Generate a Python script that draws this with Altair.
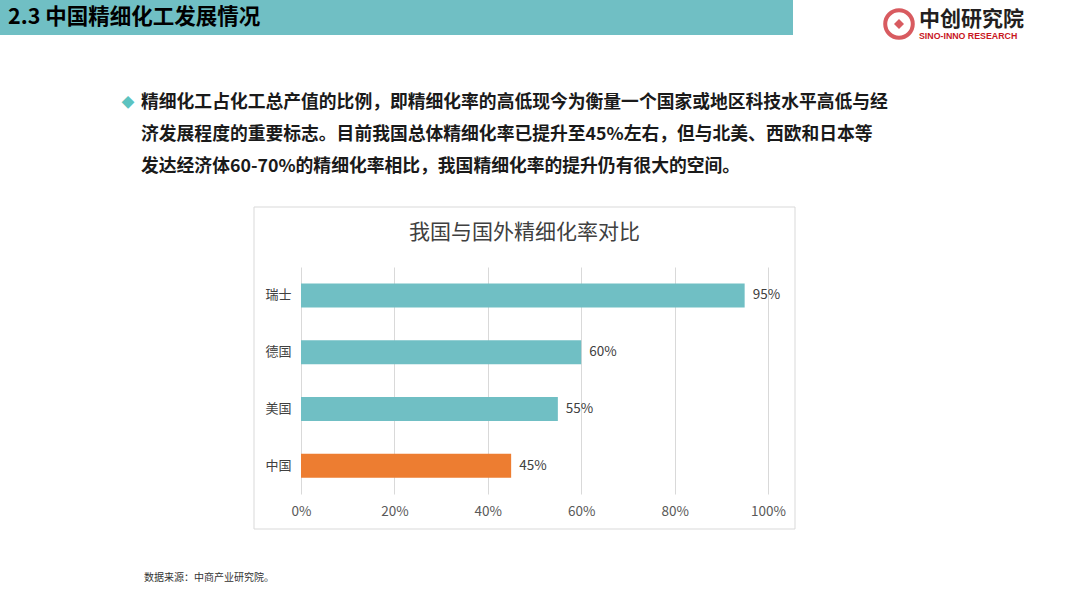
import altair as alt
import pandas as pd

FONT = "Noto Sans CJK SC"

countries = ["瑞士", "德国", "美国", "中国"]
rates = [0.95, 0.60, 0.55, 0.45]
bar_colors = ["#70bfc4", "#70bfc4", "#70bfc4", "#ed7d31"]
value_labels = ["95%", "60%", "55%", "45%"]
tick_values = [0, 0.2, 0.4, 0.6, 0.8, 1.0]

heading = "2.3 中国精细化工发展情况"
body_lines = [
    "精细化工占化工总产值的比例，即精细化率的高低现今为衡量一个国家或地区科技水平高低与经",
    "济发展程度的重要标志。目前我国总体精细化率已提升至45%左右，但与北美、西欧和日本等",
    "发达经济体60-70%的精细化率相比，我国精细化率的提升仍有很大的空间。",
]
chart_title = "我国与国外精细化率对比"
source_note = "数据来源：中商产业研究院。"
logo_cn = "中创研究院"
logo_en = "SINO-INNO RESEARCH"

OX, OY = 301, 267
W, H = 467, 227

df = pd.DataFrame({"country": countries, "rate": rates, "color": bar_colors, "label": value_labels})
one = pd.DataFrame({"a": [0]})


def px(x):
    return alt.value(x - OX)


def py(y):
    return alt.value(y - OY)


def txt(text, x, y, size, color="#1a1a1a", weight="normal", align="left", font=FONT, **kw):
    return alt.Chart(one).mark_text(
        text=text, align=align, baseline="middle", fontSize=size, font=font,
        fontWeight=weight, color=color, **kw
    ).encode(x=px(x), y=py(y))


header_band = alt.Chart(one).mark_rect(color="#70bfc4").encode(
    x=px(0), x2=px(793), y=py(0), y2=py(35)
)
header_text = txt(heading, 8, 18, 21.5, color="#000000", weight="bold")

logo_ring = alt.Chart(one).mark_point(
    shape="circle", filled=False, size=760, stroke="#c8161d", strokeWidth=4
).encode(x=px(899), y=py(24))
logo_inner = alt.Chart(one).mark_point(
    shape="diamond", filled=True, size=100, color="#c8161d"
).encode(x=px(899), y=py(24))
logo_cn_t = txt(logo_cn, 919, 20, 21, color="#231f20", weight="bold")
logo_en_t = txt(logo_en, 919, 36, 8.8, color="#c8161d", weight="bold", font="Liberation Sans")

bullet = txt("◆", 128, 103, 13, color="#5cc3c0", align="center")
body = alt.Chart(one).mark_text(
    text=body_lines, align="left", baseline="middle", fontSize=17.8, font=FONT,
    fontWeight="bold", color="#1a1a1a", lineHeight=32
).encode(x=px(141), y=py(103))

box = alt.Chart(one).mark_rect(filled=False, stroke="#d9d9d9", strokeWidth=1).encode(
    x=px(254), x2=px(795), y=py(207), y2=py(529)
)
title_t = txt(chart_title, 524.5, 233, 21, color="#404040", align="center")

bars = alt.Chart(df).mark_bar(size=24).encode(
    x=alt.X(
        "rate:Q",
        scale=alt.Scale(domain=[0, 1], nice=False),
        axis=alt.Axis(
            values=tick_values, format="%", grid=True, gridColor="#d9d9d9",
            domain=False, ticks=False, labelPadding=10, labelFontSize=13.5,
            labelColor="#595959", labelFont=FONT, title=None, labelFlush=False,
        ),
    ),
    y=alt.Y(
        "country:N",
        sort=countries,
        scale=alt.Scale(paddingInner=0, paddingOuter=0),
        axis=alt.Axis(
            domain=False, ticks=False, labelPadding=10, labelFontSize=13,
            labelColor="#404040", labelFont=FONT, title=None,
        ),
    ),
    color=alt.Color("color:N", scale=None),
)
labels = alt.Chart(df).mark_text(
    align="left", baseline="middle", dx=8, fontSize=13.5, font=FONT, color="#404040"
).encode(x="rate:Q", y=alt.Y("country:N", sort=countries), text="label:N")

source_t = txt(source_note, 144, 578, 10, color="#333333")

chart = alt.layer(
    header_band, header_text, logo_ring, logo_inner, logo_cn_t, logo_en_t,
    bullet, body, box, title_t, bars, labels, source_t,
).properties(
    width=W, height=H,
    padding={"left": OX, "top": OY, "right": 1080 - OX - W, "bottom": 608 - OY - H},
    autosize=alt.AutoSizeParams(type="none"),
    background="white",
).configure_view(strokeWidth=0)

chart.save("out.html", embed_options={"renderer": "svg", "actions": False})
